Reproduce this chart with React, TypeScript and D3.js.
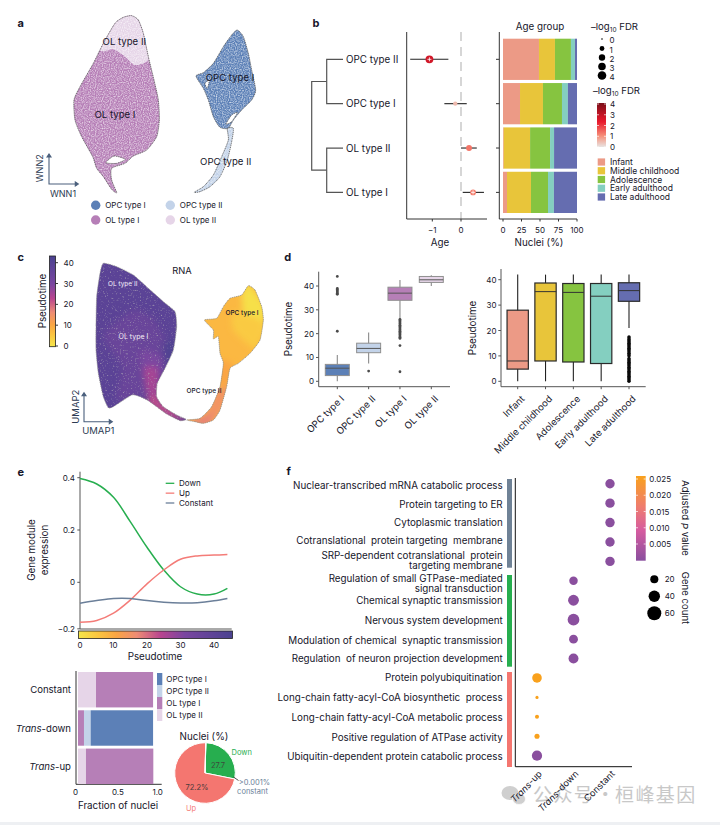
import React from 'react';
import * as d3 from 'd3';

type P = [number, number];

const FONT = 'Inter, "Noto Sans", sans-serif';
const INK = '#16162a';

const cellTypes = ['OPC type I', 'OPC type II', 'OL type I', 'OL type II'];
const cellColors = ['#5c80b7', '#c3d3e9', '#b67fb7', '#e6d5e8'];
const cellColor = d3.scaleOrdinal<string, string>().domain(cellTypes).range(cellColors);

// embedding outlines
const wnnOl: P[] = [[395, 47], [415, 60], [430, 100], [445, 170], [462, 240], [475, 300], [478, 360], [470, 410], [440, 450], [400, 468], [375, 490], [335, 505], [335, 540], [350, 578], [335, 568], [310, 530], [290, 505], [278, 470], [245, 410], [225, 360], [222, 300], [240, 260], [280, 190], [310, 130], [345, 70], [370, 52]];
const wnnOlTop: P[] = [[300, 150], [340, 148], [375, 170], [405, 195], [445, 180], [470, 100], [400, 30], [330, 50]];
const wnnOlGap: P[] = [[318, 488], [342, 468], [376, 478], [350, 490]];
const wnnOpc: P[] = [[712, 90], [730, 110], [745, 160], [755, 210], [767, 270], [755, 300], [725, 330], [700, 360], [685, 385], [660, 382], [640, 350], [625, 300], [610, 265], [588, 228], [610, 218], [640, 190], [670, 140], [695, 105]];
const wnnOpcTail: P[] = [[682, 385], [700, 385], [696, 420], [682, 480], [660, 530], [630, 560], [600, 575], [582, 577], [610, 560], [640, 525], [665, 470], [685, 420]];
const wnnOpcGaps: P[][] = [[[695, 345], [712, 338], [695, 365], [678, 372]], [[615, 250], [628, 240], [622, 265]]];

const umapOl: P[] = [[310, 70], [350, 80], [400, 105], [445, 145], [490, 185], [525, 215], [530, 260], [520, 330], [495, 385], [472, 430], [470, 470], [490, 500], [530, 525], [558, 538], [540, 542], [500, 522], [470, 500], [445, 482], [420, 470], [395, 465], [340, 500], [325, 503], [310, 470], [295, 400], [288, 330], [288, 260], [290, 170], [300, 100]];
const umapOpc: P[] = [[745, 137], [765, 150], [785, 200], [790, 240], [780, 300], [750, 340], [715, 370], [690, 385], [680, 440], [660, 510], [640, 540], [610, 550], [585, 545], [560, 540], [600, 535], [635, 500], [660, 440], [670, 370], [660, 340], [655, 290], [640, 297], [640, 270], [613, 240], [650, 235], [670, 200], [690, 175], [725, 165]];
const umapOlRegions: { time: number; pts: P[] }[] = [
  { time: 36, pts: [[310, 285], [400, 210], [460, 235], [495, 300], [480, 370], [480, 440], [430, 470], [350, 480], [365, 380]] },
  { time: 31, pts: [[420, 335], [480, 345], [490, 375], [470, 460], [440, 440]] },
  { time: 26, pts: [[432, 385], [472, 385], [478, 475], [445, 470]] },
  { time: 23, pts: [[465, 470], [560, 545], [500, 530], [440, 485]] },
  { time: 43, pts: [[488, 310], [535, 300], [520, 365], [498, 370]] },
];
const umapOpcRegions: { time: number; pts: P[] }[] = [
  { time: 1, pts: [[725, 165], [745, 130], [795, 200], [790, 285], [740, 285]] },
  { time: 5, pts: [[700, 215], [790, 245], [770, 330], [700, 270]] },
  { time: 11, pts: [[660, 360], [700, 375], [690, 430], [650, 430]] },
  { time: 15, pts: [[690, 440], [665, 520], [620, 560], [620, 510], [650, 450]] },
  { time: 18, pts: [[640, 520], [620, 560], [560, 550], [600, 530]] },
];

const timeTicks = [0, 10, 20, 30, 40];
const timeStops = [0, 6, 11, 17, 24, 31, 45];
const timeColors = ['#f5e64a', '#fbc440', '#faa544', '#ee8c74', '#b8448f', '#7a46a0', '#4a4290'];
const timeColor = d3.scaleLinear<string>().domain(timeStops).range(timeColors);

// b
const forestRows = ['OPC type II', 'OPC type I', 'OL type II', 'OL type I'];
const forestEstimate = [-1.1, -0.2, 0.28, 0.42];
const forestLow = [-1.77, -0.58, 0, 0.06];
const forestHigh = [-0.44, 0.2, 0.55, 0.8];
const forestFdr = [2.7, 0.5, 1.3, 1.2];
const forestMarked = [true, false, false, true];
const ageGroups = ['Infant', 'Middle childhood', 'Adolescence', 'Early adulthood', 'Late adulthood'];
const ageColors = ['#ec9a86', '#e8c53a', '#86c440', '#84cfc0', '#656db0'];
const ageShareOpc2 = [48.6, 21.6, 21.6, 5.4, 2.8];
const ageShareOpc1 = [23, 31, 25.7, 8, 12.3];
const ageShareOl2 = [1, 35.6, 27, 5.4, 31];
const ageShareOl1 = [5.4, 32.4, 23, 8, 31.2];
const ageShares = [ageShareOpc2, ageShareOpc1, ageShareOl2, ageShareOl1];
const fdrTicks = [0, 1, 2, 3, 4];
const fdrStops = [0, 1, 2.3, 3, 4];
const fdrColors = ['#e8e4e2', '#f6907a', '#e8192c', '#c01525', '#7a0f18'];

// d
const cellQ1 = [2.4, 12, 34, 41.5];
const cellMedian = [5.5, 13.8, 37, 42.6];
const cellQ3 = [7.1, 16, 39.5, 44];
const cellWhiskLow = [0, 7.5, 26, 40];
const cellWhiskHigh = [11, 20.5, 42.5, 44.5];
const cellOutliers = [
  [21, 36.5, 37, 37.5, 38, 38.5, 39, 44],
  [4.3],
  [4, 15, 18, 18.5, 19, 19.5, 20, 20.5, 21, 21.5, 22, 22.5, 23, 23.5, 24, 24.5, 25, 25.5, 26],
  [],
];
const ageQ1 = [4.8, 8, 7.6, 7, 31.5];
const ageMedian = [8, 35.3, 35, 33.5, 35.7];
const ageQ3 = [28, 38.7, 38.5, 38.5, 38.8];
const ageWhiskLow = [0, 0, 0, 0, 21];
const ageWhiskHigh = [42, 42, 42, 42, 42];
const ageOutliers = [[], [], [], [], [0, 0.5, 1, 1.5, 2, 2.5, 3, 3.5, 4, 4.5, 5, 5.5, 6, 6.5, 7, 7.5, 8, 8.5, 9, 10, 10.5, 11, 11.5, 12, 12.5, 13, 13.5, 14, 14.5, 15, 15.5, 16, 16.5, 17, 17.5]];

// e
const modulePseudotime = [0, 5, 10, 15, 20, 25, 30, 35, 40, 44];
const moduleDown = [0.397, 0.376, 0.325, 0.232, 0.134, 0.047, -0.017, -0.045, -0.045, -0.023];
const moduleUp = [-0.153, -0.146, -0.118, -0.068, -0.006, 0.047, 0.088, 0.101, 0.104, 0.106];
const moduleConstant = [-0.08, -0.07, -0.062, -0.062, -0.07, -0.076, -0.079, -0.078, -0.071, -0.062];
const moduleNames = ['Down', 'Up', 'Constant'];
const moduleColors = ['#27ae4f', '#f47c78', '#6b7f99'];
const moduleTicks = [0.4, 0.2, 0, -0.178];
const moduleTickLabels = ['0.4', '0.2', '0', '−0.2'];

const fractionRows = ['Constant', 'Trans-down', 'Trans-up'];
const fractionOrders = [['OL type II', 'OL type I'], ['OL type I', 'OPC type II', 'OPC type I'], ['OL type II', 'OL type I']];
const fractionValues = [[0.226, 0.716], [0.075, 0.084, 0.783], [0.1, 0.845]];
const pieValues = [27.7, 72.2, 0.1];
const pieColors = ['#27ae4f', '#f47670', '#6b7f99'];

// f
const terms = [
  ['Nuclear-transcribed mRNA catabolic process'], ['Protein targeting to ER'], ['Cytoplasmic translation'],
  ['Cotranslational  protein targeting  membrane'], ['SRP-dependent cotranslational  protein', 'targeting membrane'],
  ['Regulation of small GTPase-mediated', 'signal transduction'], ['Chemical synaptic transmission'], ['Nervous system development'],
  ['Modulation of chemical  synaptic transmission'], ['Regulation  of neuron projection development'],
  ['Protein polyubiquitination'], ['Long-chain fatty-acyl-CoA biosynthetic  process'], ['Long-chain fatty-acyl-CoA metabolic process'],
  ['Positive regulation of ATPase activity'], ['Ubiquitin-dependent protein catabolic process'],
];
const termGroup = ['Constant', 'Constant', 'Constant', 'Constant', 'Constant', 'Trans-down', 'Trans-down', 'Trans-down', 'Trans-down', 'Trans-down', 'Trans-up', 'Trans-up', 'Trans-up', 'Trans-up', 'Trans-up'];
const termCount = [27, 27, 27, 27, 27, 22, 36, 42, 24, 30, 28, 3, 5, 8, 32];
const termP = [0.001, 0.001, 0.001, 0.001, 0.001, 0.001, 0.001, 0.001, 0.001, 0.001, 0.025, 0.025, 0.025, 0.025, 0.001];
const termColumns = ['Trans-up', 'Trans-down', 'Constant'];
const pTicks = [0.005, 0.01, 0.015, 0.02, 0.025];
const countTicks = [20, 40, 60];
// term labels sit a little off their dots in the original
const termNudge = [[1], [0.7], [-0.6], [-2], [-6.4, 3.9], [-2.7, 7.6], [0], [0], [0.7], [-1], [-1.4], [-0.6], [0], [1], [0.6]];

// scales
const embedX = d3.scaleLinear().domain([0, 900]).range([0, 300]);
const embedY = d3.scaleLinear().domain([0, 720]).range([0, 240]);
const outline = d3.line<P>().x(d => embedX(d[0])).y(d => embedY(d[1])).curve(d3.curveCardinalClosed.tension(0.35));
const umapY = d3.scaleLinear().domain([0, 720]).range([240, 480]);
const umapOutline = d3.line<P>().x(d => embedX(d[0])).y(d => umapY(d[1])).curve(d3.curveCardinalClosed.tension(0.5));

const forestBand = d3.scaleBand().domain(forestRows).range([38.7, 213]).paddingInner(0.07);
const rowMid = (r: string) => forestBand(r)! + forestBand.bandwidth() / 2;
const forestX = d3.scaleLinear().domain([-1, 0]).range([432.3, 461]);
const shareX = d3.scaleLinear().domain([0, 100]).range([503, 577]);
const fdrSize = d3.scaleSqrt().domain([0, 4]).range([0.8, 4.6]);
const fdrColor = d3.scaleLinear<string>().domain(fdrStops).range(fdrColors);
const fdrBarY = d3.scaleLinear().domain([0, 4]).range([147, 104]);

const timeBarY = d3.scaleLinear().domain([0, 40]).range([346, 262.7]);
const pieArc = d3.arc<d3.PieArcDatum<number>>().innerRadius(0).outerRadius(30.3);
const pieLayout = d3.pie<number>().sort(null).startAngle(0.03).endAngle(Math.PI * 2 + 0.03);

const cellBoxX = d3.scalePoint().domain(cellTypes).range([337.3, 431.3]);
const cellBoxY = d3.scaleLinear().domain([0, 40]).range([381.3, 286]);
const ageBoxX = d3.scalePoint().domain(ageGroups).range([517.7, 629]);
const ageBoxY = d3.scaleLinear().domain([0, 40]).range([381.3, 279.7]);

const moduleX = d3.scaleLinear().domain([0, 40]).range([80, 214]);
const moduleY = d3.scaleLinear().domain([0, 0.4]).range([582.3, 477.7]);
const fractionX = d3.scaleLinear().domain([0, 1]).range([78, 157.7]);
const fractionY = d3.scaleBand().domain(fractionRows).range([672, 784]).paddingInner(0.075);

const termY = d3.scalePoint<number>().domain(d3.range(terms.length)).range([483.7, 755.7]);
const columnX = d3.scalePoint().domain(termColumns).range([537, 610]);
const countSize = d3.scaleSqrt().domain([0, 60]).range([0, 7]);
const pColor = d3.scaleLinear<string>().domain([0.001, 0.01, 0.017, 0.025]).range(['#8a4f9e', '#d65ca0', '#ef7d6e', '#f9a11c']);
const pBarY = d3.scaleLinear().domain([0.005, 0.025]).range([544, 479]);

function T({ x, y, s = 9.8, a = 'start', c = INK, w, r, children }: any) {
  return (
    <text x={x} y={y} fontSize={s} textAnchor={a} fill={c} fontWeight={w} dominantBaseline="central"
      transform={r !== undefined ? `rotate(${r} ${x} ${y})` : undefined}>{children}</text>
  );
}

function Trans({ name }: { name: string }) {
  if (!name.startsWith('Trans')) return <>{name}</>;
  return <><tspan fontStyle="italic">Trans</tspan>{name.slice(5)}</>;
}

function Gradient({ id, stops, colors, lo, hi }: { id: string; stops: number[]; colors: string[]; lo: number; hi: number }) {
  // bottom to top
  return (
    <linearGradient id={id} x1="0" y1="1" x2="0" y2="0">
      {stops.map((s, i) => <stop key={i} offset={(s - lo) / (hi - lo)} stopColor={colors[i]} />)}
    </linearGradient>
  );
}

function AxisPair({ ox, oy, top, right, c = '#333', w = 1 }: any) {
  return <path d={`M${ox},${top}V${oy}H${right}`} fill="none" stroke={c} strokeWidth={w} />;
}

function Arrows({ ox, oy, top, right }: any) {
  const c = '#4a5f7c';
  return (
    <g stroke={c} strokeWidth={1.1} fill="none">
      <path d={`M${ox},${top + 2}V${oy}H${right - 2}`} />
      <path d={`M${ox - 2},${top + 3}L${ox},${top}L${ox + 2},${top + 3}Z`} fill={c} />
      <path d={`M${right - 3},${oy - 2}L${right},${oy}L${right - 3},${oy + 2}Z`} fill={c} />
    </g>
  );
}

function Box({ x, width, y, q1, med, q3, lo, hi, out, fill, stroke, sw, medStroke, whisk, outColor, outR }: any) {
  return (
    <g>
      <line x1={x} x2={x} y1={y(lo)} y2={y(hi)} stroke={whisk} strokeWidth={1.1} />
      <rect x={x - width / 2} width={width} y={y(q3)} height={y(q1) - y(q3)} fill={fill} stroke={stroke} strokeWidth={sw} />
      <line x1={x - width / 2} x2={x + width / 2} y1={y(med)} y2={y(med)} stroke={medStroke} strokeWidth={1} />
      {out.map((v: number, i: number) => <circle key={i} cx={x} cy={y(v)} r={outR} fill={outColor} />)}
    </g>
  );
}

function PanelA() {
  return (
    <g>
      <defs>
        <clipPath id="olClip"><path d={outline(wnnOl)!} /></clipPath>
      </defs>
      <g filter="url(#speckle)">
        <path d={outline(wnnOl)!} fill={cellColor('OL type I')} />
        <path d={outline(wnnOlTop)!} fill={cellColor('OL type II')} clipPath="url(#olClip)" />
        <path d={outline(wnnOpc)!} fill={cellColor('OPC type I')} />
        <path d={outline(wnnOpcTail)!} fill={cellColor('OPC type II')} />
      </g>
      <g fill="none" stroke="#555" strokeWidth={0.8} strokeDasharray="1.2 0.7">
        <path d={outline(wnnOl)!} />
        <path d={outline(wnnOpc)!} />
        <path d={outline(wnnOpcTail)!} />
      </g>
      <g fill="#fff" stroke="#555" strokeWidth={0.8} strokeDasharray="1.2 0.7">
        <path d={outline(wnnOlGap)!} />
        {wnnOpcGaps.map((g, i) => <path key={i} d={outline(g)!} />)}
      </g>
      <T x={124.3} y={41.7} s={9.6} a="middle">OL type II</T>
      <T x={115} y={114.7} s={9.6} a="middle">OL type I</T>
      <T x={230} y={77.7} s={9.6} a="middle">OPC type I</T>
      <T x={225.7} y={161.7} s={9.6} a="middle">OPC type II</T>
      <Arrows ox={49} oy={184} top={154} right={78.3} />
      <T x={40} y={168.3} s={9} a="middle" r={-90} c="#2c3a52">WNN2</T>
      <T x={63} y={193.3} s={9} a="middle" c="#2c3a52">WNN1</T>
      {cellTypes.map((t, i) => {
        const col = i % 2, row = i < 2 ? 0 : 1;
        const x = col ? 170.3 : 95.7, y = row ? 220 : 205.3;
        return (
          <g key={t}>
            <circle cx={x} cy={y} r={4.7} fill={cellColor(t)} />
            <T x={x + 9.5} y={y} s={8}>{t}</T>
          </g>
        );
      })}
    </g>
  );
}

function PanelB() {
  const mid1 = (rowMid(forestRows[0]) + rowMid(forestRows[1])) / 2;
  const mid2 = (rowMid(forestRows[2]) + rowMid(forestRows[3])) / 2;
  return (
    <g>
      <path d={`M326.7,${mid1}H311.7V${mid2}H326.7`} fill="none" stroke="#555" strokeWidth={1.2} />
      <g fill="none" stroke="#555" strokeWidth={1.2}>
        <path d={`M343,${rowMid(forestRows[0])}H326.7V${rowMid(forestRows[1])}H343`} />
        <path d={`M343,${rowMid(forestRows[2])}H326.7V${rowMid(forestRows[3])}H343`} />
      </g>
      {forestRows.map(r => <T key={r} x={346} y={rowMid(r)}>{r}</T>)}

      <line x1={forestX(0)} x2={forestX(0)} y1={32} y2={219} stroke="#c9c9c9" strokeWidth={1.5} strokeDasharray="9 6" />
      <AxisPair ox={406.7} oy={219} top={32} right={487} />
      {[-1, 0].map(t => (
        <g key={t}>
          <line x1={forestX(t)} x2={forestX(t)} y1={219} y2={221.5} stroke="#333" />
          <T x={forestX(t)} y={229.5} a="middle" s={8}>{t === -1 ? '−1' : '0'}</T>
        </g>
      ))}
      {forestRows.map((r, i) => {
        const y = rowMid(r), x = forestX(forestEstimate[i]), rad = fdrSize(forestFdr[i]);
        return (
          <g key={r}>
            <line x1={forestX(forestLow[i])} x2={forestX(forestHigh[i])} y1={y} y2={y} stroke="#222" strokeWidth={1.1} />
            <circle cx={x} cy={y} r={rad} fill={fdrColor(forestFdr[i])} />
            {forestMarked[i] && <path d={`M${x - 2},${y}h4M${x},${y - 2}v4`} stroke="#fff" strokeWidth={0.8} />}
          </g>
        );
      })}
      <T x={440} y={242} a="middle">Age</T>

      <AxisPair ox={499.3} oy={219} top={32} right={577} />
      {forestRows.map((r, i) => {
        let acc = 0;
        return (
          <g key={r}>
            <line x1={496} x2={499.3} y1={rowMid(r)} y2={rowMid(r)} stroke="#333" />
            {ageShares[i].map((v, j) => {
              const x0 = shareX(acc);
              acc += v;
              return <rect key={j} x={x0} width={shareX(acc) - x0} y={forestBand(r)} height={forestBand.bandwidth()} fill={ageColors[j]} />;
            })}
          </g>
        );
      })}
      {[0, 25, 50, 75, 100].map(t => (
        <g key={t}>
          <line x1={shareX(t)} x2={shareX(t)} y1={219} y2={221.5} stroke="#333" />
          <T x={shareX(t)} y={229.5} a="middle" s={8}>{t}</T>
        </g>
      ))}
      <T x={540} y={26.5} a="middle">Age group</T>
      <T x={539} y={242} a="middle">Nuclei (%)</T>

      <text x={591} y={30} fontSize={9.6} fill={INK}>–log<tspan fontSize={6.5} dy={2}>10</tspan><tspan dy={-2}> FDR</tspan></text>
      {fdrTicks.map((t, i) => {
        const y = [39, 48.5, 57.5, 66.5, 75.5][i];
        return (
          <g key={t}>
            <circle cx={602} cy={y} r={t === 0 ? 0.8 : fdrSize(t) - 0.3} fill="#000" />
            <T x={609.5} y={y + 1} s={8}>{t}</T>
          </g>
        );
      })}
      <text x={593} y={94} fontSize={9.6} fill={INK}>–log<tspan fontSize={6.5} dy={2}>10</tspan><tspan dy={-2}> FDR</tspan></text>
      <rect x={597} y={fdrBarY(4) - 1} width={9} height={fdrBarY(0) - fdrBarY(4) + 1} fill="url(#fdrGrad)" />
      {fdrTicks.map(t => (
        <g key={t}>
          <path d={`M597,${fdrBarY(t)}h2M604,${fdrBarY(t)}h2`} stroke="#fff" strokeWidth={0.7} />
          <T x={610} y={fdrBarY(t)} s={8}>{t}</T>
        </g>
      ))}
      {ageGroups.map((g, i) => {
        const y = 162 + i * 8.75;
        return (
          <g key={g}>
            <rect x={597.7} y={y - 3.6} width={7.4} height={7.2} fill={ageColors[i]} />
            <T x={610} y={y} s={8.5}>{g}</T>
          </g>
        );
      })}
    </g>
  );
}

function PanelC() {
  return (
    <g>
      <defs>
        <clipPath id="umapOlClip"><path d={umapOutline(umapOl)!} /></clipPath>
        <clipPath id="umapOpcClip"><path d={umapOutline(umapOpc)!} /></clipPath>
      </defs>
      <g clipPath="url(#umapOlClip)">
        <g filter="url(#speckleGrey)">
          <rect x={90} y={250} width={110} height={190} fill={timeColor(40)} />
          <g filter="url(#soft)">
            {umapOlRegions.map((r, i) => <path key={i} d={umapOutline(r.pts)!} fill={timeColor(r.time)} />)}
          </g>
        </g>
      </g>
      <g clipPath="url(#umapOpcClip)">
        <rect x={180} y={270} width={90} height={190} fill={timeColor(8)} />
        <g filter="url(#soft)">
          {umapOpcRegions.map((r, i) => <path key={i} d={umapOutline(r.pts)!} fill={timeColor(r.time)} />)}
        </g>
      </g>
      <g fill="none" stroke="#8a8a8a" strokeWidth={0.8} strokeDasharray="1.2 0.8">
        <path d={umapOutline(umapOl)!} />
        <path d={umapOutline(umapOpc)!} />
      </g>
      <rect x={49.5} y={256} width={6} height={90.7} fill="url(#timeGrad)" stroke="#222" strokeWidth={0.8} />
      {timeTicks.map(t => (
        <g key={t}>
          <line x1={55.5} x2={58} y1={timeBarY(t)} y2={timeBarY(t)} stroke="#333" />
          <T x={63.5} y={timeBarY(t)} s={8}>{t}</T>
        </g>
      ))}
      <T x={42} y={301} a="middle" r={-90}>Pseudotime</T>
      <T x={182} y={270.7} s={9.3} a="middle">RNA</T>
      <T x={122.7} y={284.3} s={6.5} a="middle" c="#f2eef8">OL type II</T>
      <T x={133.5} y={336.7} s={7} a="middle" c="#f6eef6">OL type I</T>
      <T x={242} y={313} s={6.5} a="middle" w={500}>OPC type I</T>
      <T x={204} y={390.7} s={6.5} a="middle" w={500}>OPC type II</T>
      <Arrows ox={84} oy={421.7} top={392.7} right={112.3} />
      <T x={76} y={406.7} s={9.5} a="middle" r={-90} c="#2c3a52">UMAP2</T>
      <T x={98.3} y={430.7} s={9.5} a="middle" c="#2c3a52">UMAP1</T>
    </g>
  );
}

function PanelD() {
  return (
    <g>
      <AxisPair ox={318.7} oy={386.7} top={271.7} right={450} c="#555" />
      {[0, 10, 20, 30, 40].map(t => (
        <g key={t}>
          <line x1={316} x2={318.7} y1={cellBoxY(t)} y2={cellBoxY(t)} stroke="#555" />
          <T x={314} y={cellBoxY(t)} a="end" s={8}>{t}</T>
        </g>
      ))}
      <T x={288} y={329} a="middle" r={-90}>Pseudotime</T>
      {cellTypes.map((t, i) => (
        <g key={t}>
          <Box x={cellBoxX(t)} width={24} y={cellBoxY} q1={cellQ1[i]} med={cellMedian[i]} q3={cellQ3[i]} lo={cellWhiskLow[i]} hi={cellWhiskHigh[i]} out={cellOutliers[i]}
            fill={cellColors[i]} stroke="#8f8f8f" sw={1} medStroke="#555" whisk="#8a8a8a" outColor="#4a4a4a" outR={1.4} />
          <line x1={cellBoxX(t)} x2={cellBoxX(t)} y1={386.7} y2={389.2} stroke="#555" />
          <T x={cellBoxX(t)! + 5} y={397} a="end" s={9.5} r={-45}>{t}</T>
        </g>
      ))}

      <AxisPair ox={501} oy={386.7} top={269} right={645.7} c="#555" />
      {[0, 10, 20, 30, 40].map(t => (
        <g key={t}>
          <line x1={498.3} x2={501} y1={ageBoxY(t)} y2={ageBoxY(t)} stroke="#555" />
          <T x={496.5} y={ageBoxY(t)} a="end" s={8}>{t}</T>
        </g>
      ))}
      <T x={472} y={328} a="middle" r={-90}>Pseudotime</T>
      {ageGroups.map((t, i) => (
        <g key={t}>
          <Box x={ageBoxX(t)} width={21.3} y={ageBoxY} q1={ageQ1[i]} med={ageMedian[i]} q3={ageQ3[i]} lo={ageWhiskLow[i]} hi={ageWhiskHigh[i]} out={ageOutliers[i]}
            fill={ageColors[i]} stroke="#2a2a2a" sw={1.2} medStroke="#333" whisk="#222" outColor="#0a0a0a" outR={1.7} />
          <line x1={ageBoxX(t)} x2={ageBoxX(t)} y1={386.7} y2={389.2} stroke="#555" />
          <T x={ageBoxX(t)! + 5} y={397} a="end" s={9.5} r={-45}>{t}</T>
        </g>
      ))}
    </g>
  );
}

function PanelE() {
  const line = d3.line<number>().x((_, i) => moduleX(modulePseudotime[i])).y(d => moduleY(d)).curve(d3.curveCatmullRom.alpha(0.5));
  const series = [moduleDown, moduleUp, moduleConstant];
  const legendY = d3.scalePoint().domain(moduleNames).range([483.3, 503]);
  const pieData = pieLayout(pieValues);
  return (
    <g>
      <AxisPair ox={80} oy={629} top={471.7} right={231.7} c="#555" />
      {moduleTicks.map((t, i) => (
        <g key={t}>
          <line x1={77.3} x2={80} y1={moduleY(t)} y2={moduleY(t)} stroke="#555" />
          <T x={75} y={moduleY(t)} a="end" s={8}>{moduleTickLabels[i]}</T>
        </g>
      ))}
      <T x={31.7} y={550} a="middle" r={-90}>Gene module</T>
      <T x={44} y={550} a="middle" r={-90}>expression</T>
      {series.map((s, i) => <path key={i} d={line(s)!} fill="none" stroke={moduleColors[i]} strokeWidth={1.5} />)}
      {moduleNames.map((n, i) => (
        <g key={n}>
          <line x1={165.7} x2={174.3} y1={legendY(n)} y2={legendY(n)} stroke={moduleColors[i]} strokeWidth={1.3} />
          <T x={179} y={legendY(n)} s={8}>{n}</T>
        </g>
      ))}
      <rect x={78.5} y={631} width={154} height={7.5} fill="url(#timeGradH)" stroke="#222" strokeWidth={0.8} />
      {timeTicks.map(t => <T key={t} x={moduleX(t)} y={645} a="middle" s={8}>{t}</T>)}
      <T x={155} y={656.5} a="middle">Pseudotime</T>

      <AxisPair ox={76} oy={784.3} top={671} right={161.7} />
      {fractionRows.map((r, i) => {
        let acc = 0;
        return (
          <g key={r}>
            {fractionValues[i].map((v, j) => {
              const x0 = fractionX(acc);
              acc += v;
              return <rect key={j} x={x0} width={fractionX(acc) - x0} y={fractionY(r)} height={fractionY.bandwidth()} fill={cellColor(fractionOrders[i][j])} />;
            })}
            <T x={71} y={fractionY(r)! + fractionY.bandwidth() / 2} a="end" s={9.6}><Trans name={r} /></T>
          </g>
        );
      })}
      {[0, 0.5, 1].map((t, i) => (
        <T key={t} x={i === 0 ? 75.5 : fractionX(t)} y={791.7} a="middle" s={8}>{['0', '0.5', '1.0'][i]}</T>
      ))}
      <T x={118} y={805.7} a="middle">Fraction of nuclei</T>
      {cellTypes.map((t, i) => (
        <g key={t}>
          <rect x={157} y={673 + i * 12} width={5.3} height={12} fill={cellColor(t)} />
          <T x={166.3} y={678.5 + i * 12} s={8}>{t}</T>
        </g>
      ))}

      <T x={204} y={736.7} a="middle">Nuclei (%)</T>
      <g transform="translate(205,773)">
        {pieData.map((d, i) => <path key={i} d={pieArc(d)!} fill={pieColors[i]} stroke="#fff" strokeWidth={1} />)}
      </g>
      <path d="M233.5,777L238.5,780.5" stroke="#222" strokeWidth={0.8} />
      <T x={218} y={765} a="middle" s={7.5} c="#3c4a3c">27.7</T>
      <T x={197} y={787} a="middle" s={7.5} c="#4a3a3a">72.2%</T>
      <T x={241.7} y={752} a="middle" s={7.5} c="#27ae4f">Down</T>
      <T x={191} y={808} a="middle" s={7.5} c="#f47c78">Up</T>
      <T x={254.5} y={782.7} a="middle" s={7.5} c="#6b7f99">&gt;0.001%</T>
      <T x={252.5} y={791} a="middle" s={7.5} c="#6b7f99">constant</T>
    </g>
  );
}

function PanelF() {
  return (
    <g>
      <g fontSize={19} fill="#c8c8c8" letterSpacing={1.4} fontFamily='"Noto Sans CJK SC"'>
        <text x={533} y={802}>公众号</text>
        <text x={606} y={802} textAnchor="middle">·</text>
        <text x={615} y={802}>桓峰基因</text>
      </g>
      <g fill="#cfcfcf">
        <ellipse cx={510} cy={793} rx={8.5} ry={7} />
        <ellipse cx={519} cy={799} rx={6.5} ry={5.5} stroke="#fff" strokeWidth={0.7} />
      </g>

      <path d="M507,479h5v88.7h-5z" fill="#6f8296" />
      <path d="M507,575h5v91.7h-5z" fill="#27ae4f" />
      <path d="M507,672h5v95h-5z" fill="#f47670" />
      <AxisPair ox={515.3} oy={766.7} top={478} right={632} c="#111" />
      {terms.map((lines, i) => {
        const y = termY(i)!;
        return (
          <g key={i}>
            {lines.map((l, j) => (
              <T key={j} x={502.7} y={y + termNudge[i][j]} a="end" s={9.8}><tspan style={{ whiteSpace: 'pre' }}>{l}</tspan></T>
            ))}
            <circle cx={columnX(termGroup[i])} cy={y} r={countSize(termCount[i])} fill={pColor(termP[i])} />
          </g>
        );
      })}
      {termColumns.map(c => (
        <T key={c} x={columnX(c)! + 3} y={772} a="end" s={9.2} r={-45}><Trans name={c} /></T>
      ))}

      <rect x={636} y={476} width={9.7} height={84.7} fill="url(#pGrad)" />
      {pTicks.map(t => (
        <g key={t}>
          <path d={`M636,${pBarY(t)}h2M643.7,${pBarY(t)}h2`} stroke="#fff" strokeWidth={0.7} />
          <T x={649.3} y={pBarY(t)} s={8}>{t.toFixed(3)}</T>
        </g>
      ))}
      <text x={685} y={518} fontSize={9.6} textAnchor="middle" dominantBaseline="central" fill={INK} transform="rotate(90 685 518)">Adjusted <tspan fontStyle="italic">P</tspan> value</text>
      <T x={685} y={598} s={9.6} a="middle" r={90}>Gene count</T>
      {countTicks.map((t, i) => {
        const y = 579.3 + i * 17;
        return (
          <g key={t}>
            <circle cx={654.3} cy={y} r={countSize(t)} fill="#000" />
            <T x={664.7} y={y} s={8}>{t}</T>
          </g>
        );
      })}
    </g>
  );
}

export default function App() {
  return (
    <svg width={720} height={825} viewBox="0 0 720 825" style={{ position: 'absolute', left: 0, top: 0, background: '#fff' }} fontFamily={FONT}>
      <defs>
        <filter id="speckle" x="0" y="0" width="100%" height="100%" colorInterpolationFilters="sRGB">
          <feTurbulence type="fractalNoise" baseFrequency="0.85" numOctaves={1} seed={3} result="n" />
          <feColorMatrix in="n" type="matrix" values="0 0 0 0 1  0 0 0 0 1  0 0 0 0 1  1.6 0 0 0 -0.62" result="a" />
          <feComposite in="a" in2="SourceAlpha" operator="in" result="s" />
          <feMerge><feMergeNode in="SourceGraphic" /><feMergeNode in="s" /></feMerge>
        </filter>
        <filter id="speckleGrey" x="0" y="0" width="100%" height="100%" colorInterpolationFilters="sRGB">
          <feTurbulence type="fractalNoise" baseFrequency="0.6" numOctaves={2} seed={8} result="n" />
          <feColorMatrix in="n" type="matrix" values="0 0 0 0 0.7  0 0 0 0 0.68  0 0 0 0 0.72  2.6 0 0 0 -1.55" result="a" />
          <feComposite in="a" in2="SourceAlpha" operator="in" result="s" />
          <feMerge><feMergeNode in="SourceGraphic" /><feMergeNode in="s" /></feMerge>
        </filter>
        <filter id="soft" x="-30%" y="-30%" width="160%" height="160%"><feGaussianBlur stdDeviation={3} /></filter>
        <Gradient id="fdrGrad" stops={fdrStops} colors={fdrColors} lo={0} hi={4} />
        <Gradient id="timeGrad" stops={timeStops} colors={timeColors} lo={0} hi={45} />
        <linearGradient id="timeGradH">
          {timeStops.map((s, i) => <stop key={i} offset={s / 45} stopColor={timeColors[i]} />)}
        </linearGradient>
        <Gradient id="pGrad" stops={[0.001, 0.01, 0.017, 0.026]} colors={['#8a4f9e', '#d65ca0', '#ef7d6e', '#f9a11c']} lo={0.001} hi={0.026} />
      </defs>

      <T x={20.7} y={23.3} s={11} w={700} a="middle">a</T>
      <T x={316} y={22.7} s={11} w={700} a="middle">b</T>
      <T x={20.7} y={256.7} s={11} w={700} a="middle">c</T>
      <T x={287.7} y={256.7} s={11} w={700} a="middle">d</T>
      <T x={20.7} y={472} s={11} w={700} a="middle">e</T>
      <T x={288.7} y={470.7} s={11} w={700} a="middle">f</T>

      <PanelA />
      <PanelB />
      <PanelC />
      <PanelD />
      <PanelE />
      <PanelF />

      <rect x={0} y={822} width={720} height={3} fill="#eef0f3" />
    </svg>
  );
}
